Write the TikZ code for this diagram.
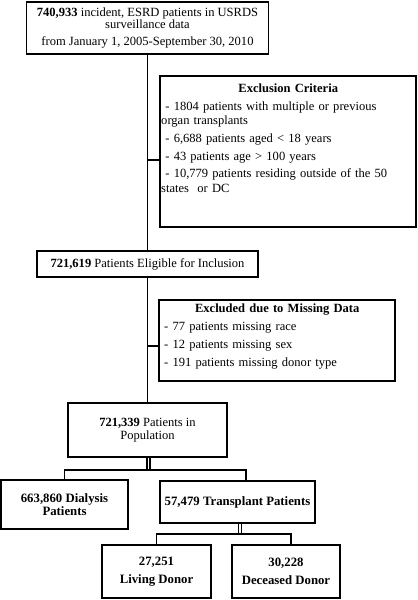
\documentclass[tikz,border=0pt]{standalone}
\usepackage{fontspec}
\setmainfont{Liberation Serif}
\usetikzlibrary{positioning}

\tikzset{
  box/.style={draw, line width=1.6pt, inner sep=0pt, align=center,
    font=\fontsize{10.7}{11}\selectfont},
  boldbox/.style={box, font=\bfseries\fontsize{10.9}{11}\selectfont},
  listtext/.style={anchor=north west, inner sep=0pt, align=left,
    font=\fontsize{10.7}{12.5}\selectfont},
  link/.style={line width=1.6pt},
  dlink/.style={line width=1.2pt, double, double distance=1.1pt}
}

\begin{document}
\begin{tikzpicture}[x=0.03cm,y=-0.03cm]
\useasboundingbox (0,0) rectangle (417,600);

% main column
\node[box, minimum width=7.26cm, minimum height=1.56cm] (top) at (147.5,28)
  {\textbf{740,933} incident, ESRD patients in USRDS\\ surveillance data\\[0.12cm]
   from January 1, 2005-September 30, 2010};
\node[box, minimum width=6.63cm, minimum height=0.78cm] (elig) at (147.5,264)
  {\textbf{721,619} Patients Eligible for Inclusion};
\node[box, minimum width=4.77cm, minimum height=1.62cm] (pop) at (147.5,430)
  {\textbf{721,339} Patients in\\Population};

% exclusions
\node[box, minimum width=7.66cm, minimum height=4.53cm] (excl) at (288,151.5) {};
\node[listtext, text width=7.62cm] (excltxt) at (161,83.6)
  {\makebox[\linewidth]{\textbf{Exclusion Criteria}}\\[0.09cm]
   \ - 1804 patients with multiple or previous\\
   organ transplants\\[0.09cm]
   \ - 6,688 patients aged < 18 years\\[0.09cm]
   \ - 43 patients age > 100 years\\[0.09cm]
   \ - 10,779 patients residing outside of the 50\\
   states\ \ or DC};

\node[box, minimum width=7.08cm, minimum height=2.43cm] (miss) at (277,340.5) {};
\node[listtext, text width=6.78cm, font=\fontsize{10.7}{15.3}\selectfont] (misstxt) at (164,303.6)
  {\makebox[\linewidth]{\textbf{Excluded due to Missing Data}}\\
   - 77 patients missing race\\
   - 12 patients missing sex\\
   - 191 patients missing donor type};

% split
\node[boldbox, minimum width=3.81cm, minimum height=1.47cm] (dial) at (64.5,504.5)
  {663,860 Dialysis\\Patients};
\node[boldbox, minimum width=4.65cm, minimum height=1.26cm] (trans) at (237.5,502)
  {57,479 Transplant Patients};
\node[boldbox, minimum width=3.27cm, minimum height=1.59cm] (living) at (156.5,571.5)
  {27,251\\[0.15cm]Living Donor};
\node[boldbox, minimum width=3.24cm, minimum height=1.59cm] (dec) at (286,571.5)
  {30,228\\[0.15cm]Deceased Donor};

\coordinate (j1) at (147.5,160);
\coordinate (j2) at (147.5,346);
\coordinate (s1) at (148.5,470);
\coordinate (s1r) at (246,470);
\coordinate (s2) at (240,534);
\coordinate (s2r) at (291,534);

\draw[link] (top) -- (elig);
\draw[link] (elig) -- (pop);
\draw[link] (j1) -- (j1 -| excl.west);
\draw[link] (j2) -- (j2 -| miss.west);

\draw[dlink] (s1 |- pop.south) -- (s1);
\draw[link] (dial.north) |- (s1r) -- (s1r |- trans.north);
\draw[dlink] (s2 |- trans.south) -- (s2);
\draw[link] (living.north) |- (s2r) -- (s2r |- dec.north);

\end{tikzpicture}
\end{document}
